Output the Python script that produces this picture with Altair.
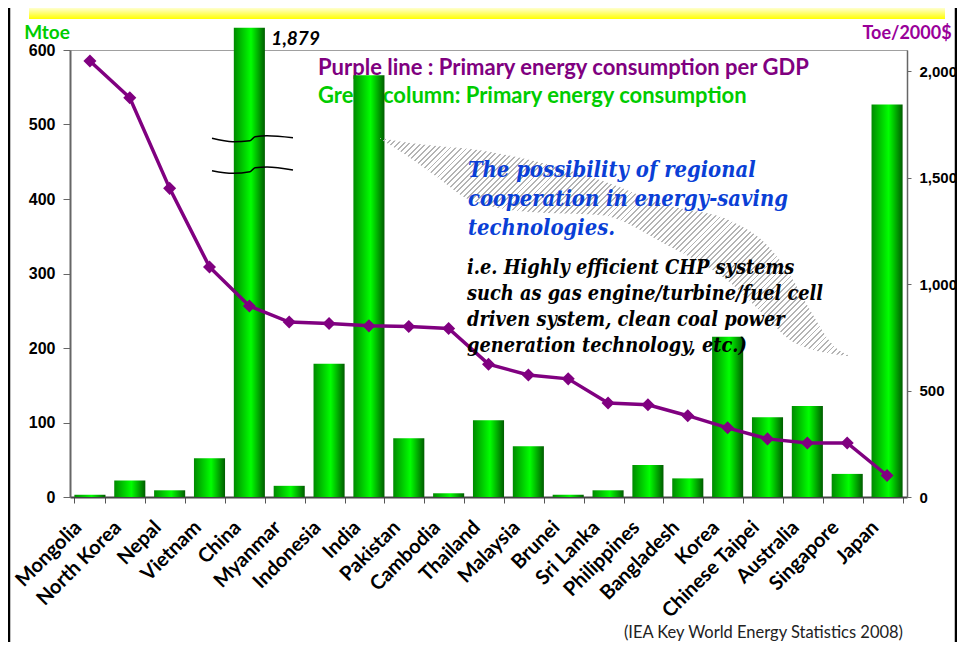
import altair as alt
import pandas as pd

# ---------------- data ----------------
countries = ["Mongolia", "North Korea", "Nepal", "Vietnam", "China", "Myanmar",
             "Indonesia", "India", "Pakistan", "Cambodia", "Thailand", "Malaysia",
             "Brunei", "Sri Lanka", "Philippines", "Bangladesh", "Korea",
             "Chinese Taipei", "Australia", "Singapore", "Japan"]
energy_mtoe = [3, 22, 9, 52, 1879, 15, 179, 566, 79, 5, 103, 68, 3, 9, 43, 25,
               215, 107, 122, 31, 527]
toe_per_gdp = [2048, 1876, 1450, 1081, 897, 822, 815, 804, 801, 792, 624, 573,
               555, 442, 433, 382, 325, 273, 254, 254, 101]
left_ticks = [0, 100, 200, 300, 400, 500, 600]
right_ticks = [0, 500, 1000, 1500, 2000]

legend_lines = ["Purple line : Primary energy consumption per GDP",
                "Green column: Primary energy consumption"]
blue_note = ["The possibility of regional",
             "cooperation  in energy-saving",
             "technologies."]
black_note = ["i.e. Highly efficient CHP systems",
              "such as gas engine/turbine/fuel cell",
              "driven system, clean coal power",
              "generation technology, etc.)"]
source_text = "(IEA Key World Energy Statistics 2008)"

# ---------------- styling / layout ----------------
W, H = 837, 447
PAD = {"left": 62, "top": 42, "right": 50, "bottom": 145}
LEFT_MAX, RIGHT_MAX = 600, 2100
BREAK_CAP = 630          # height to which the broken China column is drawn
PURPLE = "#800080"
GREEN_TXT = "#00cc00"

df = pd.DataFrame({"country": countries, "energy": energy_mtoe,
                   "intensity": toe_per_gdp})
df["shown"] = df["energy"].clip(upper=BREAK_CAP)
df["label"] = df["energy"].map(lambda v: f"{v:,}")
broken = df[df["energy"] > LEFT_MAX]

one = pd.DataFrame({"a": [0]})

bar_grad = alt.LinearGradient(
    gradient="linear", x1=0, y1=0, x2=1, y2=0,
    stops=[alt.GradientStop(offset=0, color="#008a00"),
           alt.GradientStop(offset=0.55, color="#00ff00"),
           alt.GradientStop(offset=1, color="#005c00")])

xenc = alt.X("country:N", sort=countries,
             scale=alt.Scale(paddingInner=0.22, paddingOuter=0.11),
             axis=alt.Axis(title=None, labelAngle=-45, labelAlign="right",
                           labelBaseline="middle", labelFont="Lato",
                           labelFontWeight="bold", labelFontSize=20,
                           labelColor="black", labelPadding=21, labelOffset=-12,
                           tickBand="extent", tickSize=6, tickColor="#555",
                           domainColor="#444", domainWidth=2))

# legend text (drawn under the columns, as in the reference)
legend1 = alt.Chart(one).mark_text(
    align="left", baseline="middle", font="Lato", fontWeight="bold",
    fontSize=22).encode(x=alt.value(248), y=alt.value(18),
                        text=alt.value(legend_lines[0]),
                        color=alt.value(PURPLE))
legend2 = alt.Chart(one).mark_text(
    align="left", baseline="middle", font="Lato", fontWeight="bold",
    fontSize=22).encode(x=alt.value(248), y=alt.value(46),
                        text=alt.value(legend_lines[1]),
                        color=alt.value(GREEN_TXT))

bars = alt.Chart(df).mark_bar(color=bar_grad).encode(
    x=xenc,
    y=alt.Y("shown:Q", scale=alt.Scale(domain=[0, LEFT_MAX], nice=False),
            axis=alt.Axis(title=None, values=left_ticks, grid=False,
                          labelFont="Liberation Sans", labelFontWeight="bold",
                          labelFontSize=16, labelColor="black", tickSize=7,
                          tickColor="#666", labelPadding=8, domainColor="#666",
                          domainWidth=2)))

broken_label = alt.Chart(broken).mark_text(
    align="left", baseline="middle", dx=22, dy=11, font="Lato",
    fontWeight="bold", fontStyle="italic", fontSize=19, color="black").encode(
    x=xenc,
    y=alt.Y("shown:Q", scale=alt.Scale(domain=[0, LEFT_MAX], nice=False),
            axis=None),
    text="label:N")

# break marks on the China column (pixel decoration)
brk = pd.DataFrame({
    "id": [0] * 6 + [1] * 6,
    "px": [142, 163, 180, 185, 197, 223] * 2,
    "py": [88.3, 91.7, 90.7, 86.7, 85.7, 87.7,
           120.7, 123.3, 121.7, 117.7, 117.0, 120.0]})
breaks = alt.Chart(brk).mark_line(color="black", strokeWidth=1.5,
                                  interpolate="monotone").encode(
    x=alt.X("px:Q", scale=None), y=alt.Y("py:Q", scale=None),
    detail="id:N")

# hatched call-out shape (pixel decoration)
hx = [310, 333, 367, 400, 460, 530, 597, 663, 697, 720, 740, 763, 783]
htop = [88, 92, 96, 99, 110, 130, 155, 172, 195, 225, 260, 295, 307]
hbot = [89, 103, 127, 150, 162, 165, 195, 235, 268, 290, 299, 304, 307]
hw, hh = max(hx) - min(hx), max(hbot) - min(htop)
N = 122
stops = []
for i in range(N):
    a, b = i / N, (i + 0.33) / N
    stops += [alt.GradientStop(offset=a, color="#b4b4b4"),
              alt.GradientStop(offset=b, color="#b4b4b4"),
              alt.GradientStop(offset=b, color="rgba(255,255,255,0)"),
              alt.GradientStop(offset=(i + 1) / N, color="rgba(255,255,255,0)")]
s = 1.2
hatch_grad = alt.LinearGradient(gradient="linear", x1=0, y1=0, x2=s,
                                y2=s * hh / hw, stops=stops)
hdf = pd.DataFrame({"px": hx, "top": htop, "bot": hbot})
hatch = alt.Chart(hdf).mark_area(color=hatch_grad, interpolate="monotone").encode(
    x=alt.X("px:Q", scale=None), y=alt.Y("top:Q", scale=None),
    y2=alt.Y2("bot:Q"))

# multi-line notes: y is the centre of the first line
blue = alt.Chart(one).mark_text(
    align="left", baseline="middle", font="DejaVu Serif Condensed",
    fontStyle="italic", fontWeight="bold", fontSize=21.8, lineHeight=29,
    color="#0a3fd6").encode(x=alt.value(398), y=alt.value(120),
                            text=alt.value(blue_note))
black = alt.Chart(one).mark_text(
    align="left", baseline="middle", font="DejaVu Serif Condensed",
    fontStyle="italic", fontWeight="bold", fontSize=19.8, lineHeight=26,
    color="black").encode(x=alt.value(397), y=alt.value(218),
                          text=alt.value(black_note))

line = alt.Chart(df).mark_line(
    color=PURPLE, strokeWidth=3.5,
    point=alt.OverlayMarkDef(shape="diamond", size=170, filled=True,
                             color=PURPLE, opacity=1)).encode(
    x=xenc,
    y=alt.Y("intensity:Q", scale=alt.Scale(domain=[0, RIGHT_MAX], nice=False),
            axis=alt.Axis(title=None, orient="right", values=right_ticks,
                          format=",.0f", grid=False, labelFont="Liberation Sans",
                          labelFontWeight="bold", labelFontSize=15,
                          labelColor="black", tickSize=4, tickColor="#666",
                          labelPadding=8, domainColor="#666",
                          domainWidth=1.5)))

# titles and page decorations
mtoe = alt.Chart(one).mark_text(font="Lato", fontWeight="bold", fontSize=19,
                                color=GREEN_TXT, align="center",
                                baseline="middle").encode(
    x=alt.value(-23), y=alt.value(-17), text=alt.value("Mtoe"))
toe = alt.Chart(one).mark_text(font="Lato", fontWeight="bold", fontSize=18,
                               color="#990099", align="center",
                               baseline="middle").encode(
    x=alt.value(837), y=alt.value(-16), text=alt.value("Toe/2000$"))
src = alt.Chart(one).mark_text(font="Lato", fontSize=16.5, color="#222",
                               align="right", baseline="middle").encode(
    x=alt.value(833), y=alt.value(583), text=alt.value(source_text))

ygrad = alt.LinearGradient(gradient="linear", x1=0, y1=0, x2=0, y2=1,
                           stops=[alt.GradientStop(offset=0, color="#ffffd0"),
                                  alt.GradientStop(offset=1, color="#ffff00")])
topbar = alt.Chart(one).mark_rect(color=ygrad).encode(
    x=alt.value(-41), x2=alt.value(875), y=alt.value(-42), y2=alt.value(-31))
lframe = alt.Chart(one).mark_rule(color="black", strokeWidth=2.5).encode(
    x=alt.value(-61), y=alt.value(-42), y2=alt.value(592))
rframe = alt.Chart(one).mark_rule(color="black", strokeWidth=2.5).encode(
    x=alt.value(886), y=alt.value(-42), y2=alt.value(592))

chart = alt.layer(
    legend1, legend2, bars, hatch, breaks, line, blue, black, broken_label,
    mtoe, toe, src, topbar, lframe, rframe
).resolve_scale(y="independent").properties(
    width=W, height=H, padding=PAD,
    autosize=alt.AutoSizeParams(type="none"),
    background="white"
).configure_view(stroke="#a0a0a0", strokeWidth=1)

chart.save("out.html", embed_options={"renderer": "svg", "actions": False})
